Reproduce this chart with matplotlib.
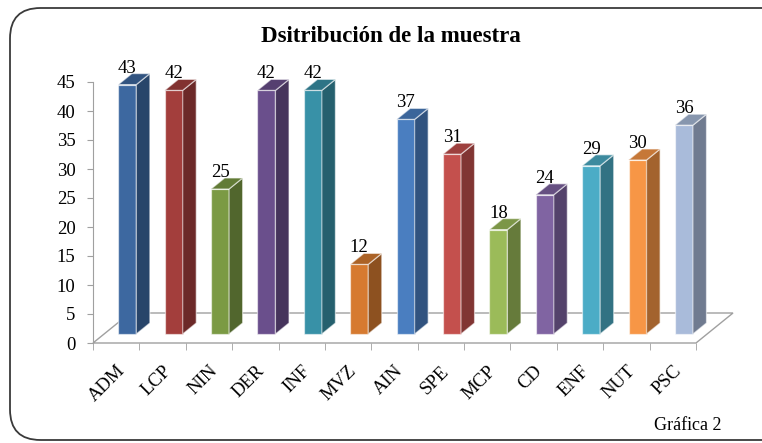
import matplotlib
matplotlib.use('Agg')
import matplotlib.pyplot as plt
from matplotlib.patches import Polygon, FancyBboxPatch
import numpy as np

categories = ['ADM', 'LCP', 'NIN', 'DER', 'INF', 'MVZ', 'AIN', 'SPE', 'MCP', 'CD', 'ENF', 'NUT', 'PSC']
values = [43, 42, 25, 42, 42, 12, 37, 31, 18, 24, 29, 30, 36]
bar_colors = ['#3D68A0', '#A33E3C', '#7B9A44', '#6A4F8C', '#3891A7', '#D67A30',
              '#4A7EC0', '#C4504D', '#9BBB59', '#8064A2', '#4BACC6', '#F79646', '#A9BBDA']
yticks = [0, 5, 10, 15, 20, 25, 30, 35, 40, 45]
title = 'Dsitribución de la muestra'
footnote = 'Gráfica 2'

plt.rcParams['font.family'] = ['Liberation Serif', 'DejaVu Serif']

W, H = 762, 443
fig = plt.figure(figsize=(W / 100, H / 100), dpi=100)
fig.patch.set_facecolor('white')

# rounded frame
frame = FancyBboxPatch((10 / W, 1 - 440 / H), 800 / W, 432 / H,
                       boxstyle='round,pad=0,rounding_size=0.04',
                       transform=fig.transFigure, facecolor='none',
                       edgecolor='#3A3A3A', lw=1.3, mutation_aspect=W / H)
fig.patches.append(frame)

left_px, right_px, zero_px, top_px = 93, 696, 343, 82
ax = fig.add_axes([left_px / W, 1 - zero_px / H, (right_px - left_px) / W, (zero_px - top_px) / H])
n = len(categories)
ax.set_xlim(-0.5, n - 0.5)
ax.set_ylim(0, 45)
ax.patch.set_alpha(0)

pxx = (right_px - left_px) / n
pxy = (zero_px - top_px) / 45.0
ddx, ddy = 37 / pxx, 30 / pxy  # floor depth in data units
gray = '#A0A0A0'

# floor
floor = Polygon([(-0.5, 0), (n - 0.5, 0), (n - 0.5 + ddx, ddy), (-0.5 + ddx, ddy)],
                closed=True, facecolor='none', edgecolor=gray, lw=1.0,
                clip_on=False, zorder=1)
ax.add_patch(floor)

def shade(c, f):
    r, g, b = matplotlib.colors.to_rgb(c)
    return (r * f, g * f, b * f)

bw = 18 / pxx
f0, f1 = 0.3, 0.667
dx, dy = (f1 - f0) * ddx, (f1 - f0) * ddy
edge = (1, 1, 1, 0.55)
for i, (v, c) in enumerate(zip(values, bar_colors)):
    x0 = i - bw / 2 + f0 * ddx
    y0 = f0 * ddy
    front = Polygon([(x0, y0), (x0 + bw, y0), (x0 + bw, y0 + v), (x0, y0 + v)],
                    facecolor=c, edgecolor=edge, lw=0.9, clip_on=False, zorder=3)
    side = Polygon([(x0 + bw, y0), (x0 + bw + dx, y0 + dy), (x0 + bw + dx, y0 + v + dy), (x0 + bw, y0 + v)],
                   facecolor=shade(c, 0.66), edgecolor=edge, lw=0.9, clip_on=False, zorder=3)
    top = Polygon([(x0, y0 + v), (x0 + bw, y0 + v), (x0 + bw + dx, y0 + v + dy), (x0 + dx, y0 + v + dy)],
                  facecolor=shade(c, 0.8), edgecolor=edge, lw=0.9, clip_on=False, zorder=3)
    for p in (front, side, top):
        ax.add_patch(p)
    ax.annotate(str(v), (x0 + bw / 2, y0 + v), xytext=(0, 12), textcoords='offset pixels',
                ha='center', va='baseline', fontsize=13.5, color='black', zorder=4,
                annotation_clip=False)

for s in ('top', 'right', 'bottom'):
    ax.spines[s].set_visible(False)
ax.spines['left'].set_color(gray)
ax.set_yticks(yticks)
ax.set_yticklabels([str(t) for t in yticks])
ax.tick_params(axis='y', direction='out', length=4.5, color=gray, labelsize=13.5, pad=8)

ax.set_xticks(np.arange(n))
ax.set_xticklabels(categories, rotation=45, ha='right', rotation_mode='anchor')
ax.set_xticks(np.arange(n + 1) - 0.5, minor=True)
ax.tick_params(axis='x', which='major', length=0, labelsize=13.5, pad=14)
ax.tick_params(axis='x', which='minor', direction='out', length=5, color=gray)

fig.text(391 / W, 1 - 42 / H, title, ha='center', va='baseline', fontsize=16.5, fontweight='bold')
fig.text(688 / W, 1 - 430 / H, footnote, ha='center', va='baseline', fontsize=13)

fig.savefig('out.png', dpi=100)
